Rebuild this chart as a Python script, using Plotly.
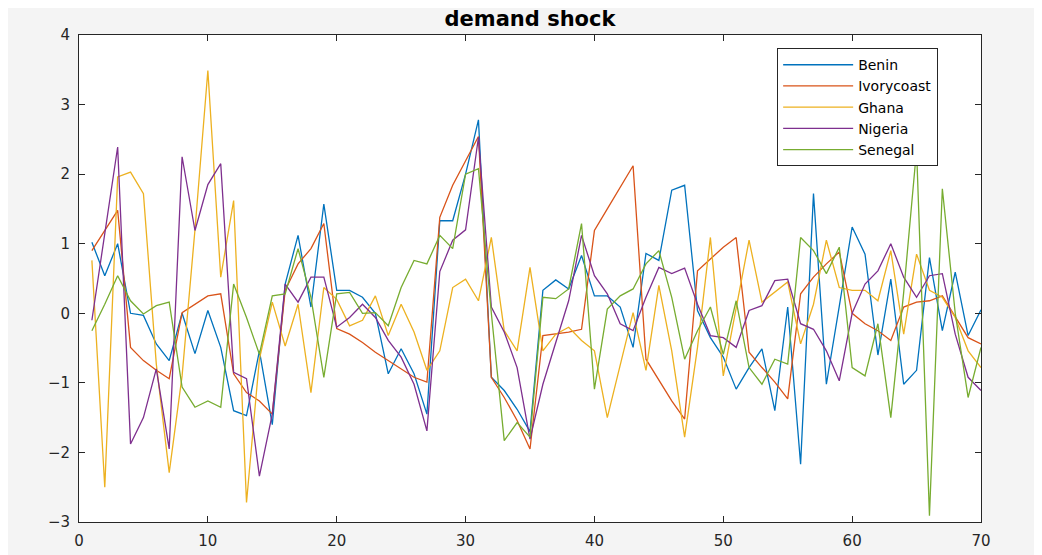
import plotly.graph_objects as go

x = list(range(1, 71))

benin = [1.02, 0.54, 1.0, 0.0, -0.03, -0.44, -0.68, 0.0, -0.58, 0.04,
         -0.49, -1.4, -1.47, -0.54, -1.6, 0.42, 1.12, 0.09, 1.57, 0.33,
         0.33, 0.23, 0.0, -0.87, -0.51, -0.87, -1.45, 1.33, 1.33, 2.0,
         2.78, -0.92, -1.11, -1.38, -1.7, 0.33, 0.48, 0.35, 0.83, 0.25,
         0.25, 0.09, -0.49, 0.86, 0.76, 1.77, 1.84, 0.04, -0.35, -0.63,
         -1.09, -0.78, -0.51, -1.4, 0.09, -2.17, 1.72, -1.02, 0.1, 1.24,
         0.85, -0.6, 0.49, -1.02, -0.82, 0.8, -0.25, 0.59, -0.32, 0.05]

ivorycoast = [0.9, 1.19, 1.48, -0.49, -0.68, -0.82, -0.94, 0.01, 0.13, 0.25,
              0.28, -0.87, -1.14, -1.26, -1.45, 0.33, 0.71, 0.93, 1.29, -0.22,
              -0.3, -0.42, -0.56, -0.68, -0.8, -0.92, -0.99, 1.38, 1.84, 2.2,
              2.54, -0.92, -1.21, -1.54, -1.95, -0.32, -0.3, -0.27, -0.23, 1.19,
              1.5, 1.8, 2.12, -0.66, -0.97, -1.26, -1.52, 0.61, 0.78, 0.95,
              1.09, -0.56, -0.78, -0.99, -1.23, 0.28, 0.52, 0.71, 0.88, 0.0,
              -0.15, -0.25, -0.39, 0.09, 0.16, 0.18, 0.25, -0.06, -0.35, -0.44]

ghana = [0.76, -2.5, 1.96, 2.03, 1.72, -0.73, -2.29, -0.9, 1.2, 3.49,
         0.52, 1.62, -2.72, -0.66, 0.16, -0.47, 0.13, -1.14, 0.37, 0.2,
         -0.18, -0.1, 0.25, -0.32, 0.13, -0.27, -0.82, -0.54, 0.37, 0.49,
         0.18, 1.09, -0.25, -0.54, 0.66, -0.54, -0.3, -0.2, -0.39, -0.54,
         -1.5, -0.73, 0.01, -0.82, 0.4, -0.54, -1.78, -0.49, 1.09, -0.9,
         0.07, 1.05, 0.16, 0.3, 0.45, -0.44, 0.13, 1.05, 0.37, 0.33,
         0.33, 0.18, 0.9, -0.3, 0.85, 0.33, 0.23, -0.06, -0.54, -0.78]

nigeria = [-0.1, 1.15, 2.39, -1.88, -1.5, -0.8, -1.95, 2.25, 1.19, 1.85,
           2.15, -0.85, -0.94, -2.34, -1.45, 0.42, 0.16, 0.52, 0.52, -0.2,
           -0.06, 0.13, -0.06, -0.39, -0.63, -1.02, -1.69, 0.6, 1.05, 1.2,
           2.53, 0.09, -0.27, -0.78, -1.81, -1.02, -0.42, 0.18, 1.12, 0.54,
           0.28, -0.15, -0.25, 0.23, 0.66, 0.57, 0.65, 0.13, -0.32, -0.35,
           -0.49, 0.04, 0.11, 0.47, 0.49, -0.15, -0.23, -0.54, -0.97, 0.0,
           0.42, 0.61, 1.0, 0.52, 0.23, 0.54, 0.57, -0.3, -0.92, -1.11]

senegal = [-0.25, 0.13, 0.54, 0.18, -0.01, 0.11, 0.16, -1.06, -1.35, -1.26,
           -1.35, 0.42, -0.06, -0.59, 0.25, 0.28, 0.93, 0.23, -0.92, 0.28,
           0.3, 0.0, 0.01, -0.18, 0.37, 0.76, 0.71, 1.12, 0.93, 2.0,
           2.08, 0.0, -1.83, -1.57, -1.78, 0.23, 0.21, 0.35, 1.29, -1.09,
           0.06, 0.25, 0.35, 0.71, 0.9, 0.23, -0.66, -0.25, 0.09, -0.59,
           0.18, -0.78, -1.02, -0.66, -0.73, 1.09, 0.9, 0.57, 0.95, -0.78,
           -0.9, -0.15, -1.5, 0.3, 2.35, -2.91, 1.79, 0.0, -1.21, -0.49]

names = ["Benin", "Ivorycoast", "Ghana", "Nigeria", "Senegal"]
series = [benin, ivorycoast, ghana, nigeria, senegal]
colors = ["#0072BD", "#D95319", "#EDB120", "#7E2F8E", "#77AC30"]

x_ticks = [0, 10, 20, 30, 40, 50, 60, 70]
y_ticks = [-3, -2, -1, 0, 1, 2, 3, 4]

FONT = "DejaVu Sans, Arial"

fig = go.Figure()
for name, ys, c in zip(names, series, colors):
    fig.add_trace(go.Scatter(x=x, y=ys, mode="lines", name=name,
                             line=dict(color=c, width=1.3)))

axis_common = dict(showgrid=False, zeroline=False, showline=True, mirror="ticks",
                   linecolor="#262626", linewidth=1, ticks="inside", ticklen=6,
                   tickcolor="#262626", automargin=False,
                   tickfont=dict(family=FONT, size=15, color="#262626"))

W, H = 1034, 547
fig.update_layout(
    width=W, height=H,
    margin=dict(l=71, r=61, t=27, b=33),
    paper_bgcolor="#f4f4f4",
    plot_bgcolor="white",
    title=dict(text="<b>demand shock</b>", x=0.5, xanchor="center", xref="paper",
               y=1 - 3 / H, yanchor="top", yref="container",
               font=dict(family=FONT, size=21, color="black")),
    xaxis=dict(range=[0, 70], tickvals=x_ticks, ticklabelstandoff=5, **axis_common),
    yaxis=dict(range=[-3, 4], tickvals=y_ticks, ticklabelstandoff=5, **axis_common),
    legend=dict(x=0.774, y=0.973, xanchor="left", yanchor="top",
                bgcolor="white", bordercolor="#262626", borderwidth=1,
                font=dict(family=FONT, size=14, color="black"),
                itemwidth=70, entrywidth=110, entrywidthmode="pixels",
                tracegroupgap=0),
    showlegend=True,
)

fig.write_html("out.html")
